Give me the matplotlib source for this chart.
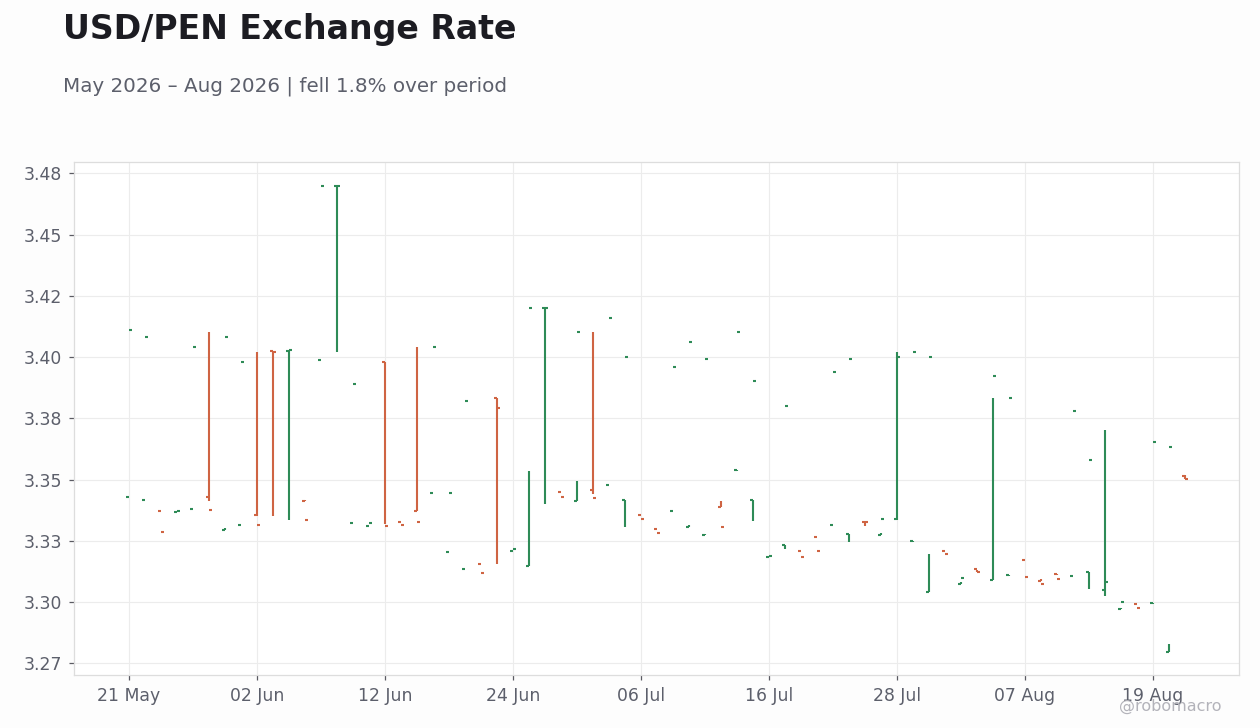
import pandas as pd
import matplotlib.pyplot as plt


# business days, 21 May 2026 -> 21 Aug 2026
dates = pd.bdate_range("2026-05-21", "2026-08-21")

open_px = [
    3.3429, 3.3418, 3.3373, 3.3369, 3.3381, 3.3430, 3.3295,
    3.3316, 3.3355, 3.4026, 3.4026, 3.3414,
    3.3989, 3.4699, 3.3324, 3.3312, 3.3981,
    3.3328, 3.3373, 3.3446, 3.3206, 3.3136,
    3.3157, 3.3834, 3.3210, 3.3148, 3.4201,
    3.3450, 3.3414, 3.3459, 3.3479, 3.3418,
    3.3357, 3.3299, 3.3373, 3.3308, 3.3275,
    3.3389, 3.3540, 3.3418, 3.3185, 3.3234,
    3.3210, 3.3267, 3.3316, 3.3279, 3.3328,
    3.3275, 3.3340, 3.3250, 3.3042, 3.3210,
    3.3075, 3.3136, 3.3091, 3.3112, 3.3173,
    3.3087, 3.3116, 3.3108, 3.3124, 3.3050,
    3.2973, 3.2993, 3.2997, 3.2796, 3.3516,
]

high_px = [
    3.4112, 3.4083, 3.3373, 3.3373, 3.4042, 3.4102, 3.3301,
    3.3316, 3.4021, 3.4026, 3.4027, 3.3418,
    3.3989, 3.4700, 3.3324, 3.3312, 3.3981,
    3.3328, 3.4041, 3.3446, 3.3206, 3.3136,
    3.3157, 3.3834, 3.3210, 3.3535, 3.4202,
    3.3450, 3.3494, 3.4102, 3.3479, 3.3418,
    3.3357, 3.3299, 3.3373, 3.3316, 3.3279,
    3.3412, 3.3540, 3.3418, 3.3185, 3.3234,
    3.3210, 3.3267, 3.3316, 3.3279, 3.3328,
    3.3283, 3.4019, 3.3250, 3.3196, 3.3210,
    3.3083, 3.3130, 3.3834, 3.3112, 3.3173,
    3.3095, 3.3116, 3.3108, 3.3124, 3.3701,
    3.2977, 3.2993, 3.2997, 3.2829, 3.3520,
]

low_px = [
    3.4112, 3.4083, 3.3373, 3.3373, 3.4042, 3.3414, 3.3295,
    3.3316, 3.3352, 3.3352, 3.3336, 3.3414,
    3.3989, 3.4022, 3.3324, 3.3312, 3.3320,
    3.3328, 3.3373, 3.3446, 3.3206, 3.3136,
    3.3157, 3.3157, 3.3210, 3.3148, 3.3401,
    3.3450, 3.3414, 3.3442, 3.3479, 3.3308,
    3.3357, 3.3299, 3.3373, 3.3308, 3.3275,
    3.3389, 3.3536, 3.3332, 3.3185, 3.3218,
    3.3210, 3.3267, 3.3316, 3.3246, 3.3312,
    3.3275, 3.3336, 3.3246, 3.3042, 3.3210,
    3.3075, 3.3122, 3.3091, 3.3108, 3.3173,
    3.3087, 3.3112, 3.3108, 3.3055, 3.3026,
    3.2973, 3.2993, 3.2993, 3.2796, 3.3503,
]

close_px = [
    3.4112, 3.4083, 3.3287, 3.3373, 3.4042, 3.3377, 3.4083,
    3.3981, 3.3316, 3.4022, 3.4027, 3.3336,
    3.4699, 3.4700, 3.3891, 3.3324, 3.3312,
    3.3316, 3.3328, 3.4042, 3.3446, 3.3822,
    3.3120, 3.3793, 3.3218, 3.4201, 3.4202,
    3.3430, 3.4103, 3.3426, 3.4161, 3.4001,
    3.3340, 3.3283, 3.3961, 3.4063, 3.3993,
    3.3308, 3.4103, 3.3903, 3.3189, 3.3801,
    3.3185, 3.3210, 3.3940, 3.3993, 3.3327,
    3.3340, 3.4001, 3.4022, 3.4001, 3.3197,
    3.3099, 3.3124, 3.3924, 3.3834, 3.3103,
    3.3075, 3.3095, 3.3781, 3.3581, 3.3083,
    3.3001, 3.2977, 3.3654, 3.3634, 3.3503,
]

y_ticks = [3.275, 3.30, 3.325, 3.35, 3.375, 3.40, 3.425, 3.45, 3.475]
y_labels = ["3.27", "3.30", "3.33", "3.35", "3.38", "3.40", "3.42", "3.45", "3.48"]

UP = "#2e8b57"
DOWN = "#cf6443"
TEXT = "#1c1c22"
MUTED = "#5c5f6b"


fig = plt.figure(figsize=(12.6, 7.28), dpi=100, facecolor="#fdfdfd")
ax = fig.add_axes([74 / 1260, 1 - 675 / 728, 1165 / 1260, 513 / 728])
ax.set_facecolor("white")

x = list(range(len(dates)))
colors = [UP if c >= o else DOWN for o, c in zip(open_px, close_px)]
tick = 0.19

ax.vlines(x, low_px, high_px, colors=colors, linewidth=1.5, capstyle="butt", zorder=3)
ax.hlines(open_px, [i - tick for i in x], x, colors=colors, linewidth=1.5, zorder=3)
ax.hlines(close_px, x, [i + tick for i in x], colors=colors, linewidth=1.5, zorder=3)

ax.set_xlim(-3.44, 69.4)
ax.set_ylim(3.2702, 3.4796)

xt = x[::8]
ax.set_xticks(xt)
ax.set_xticklabels([dates[i].strftime("%d %b") for i in xt])
ax.set_yticks(y_ticks)
ax.set_yticklabels(y_labels)

ax.grid(True, color="#ececec", linewidth=0.8, zorder=0)
ax.set_axisbelow(True)
for s in ax.spines.values():
    s.set_color("#dddddd")
    s.set_linewidth(0.9)

ax.tick_params(axis="both", colors="#5a5a62", labelcolor=MUTED,
               labelsize=12.4, length=3.5, width=0.9, pad=5)

fig.text(63 / 1260, 1 - 39 / 728, "USD/PEN Exchange Rate",
         fontsize=23.9, fontweight="bold", color=TEXT, va="baseline")
fig.text(63 / 1260, 1 - 92 / 728, "May 2026 \u2013 Aug 2026 | fell 1.8% over period",
         fontsize=14.35, color=MUTED, va="baseline")
fig.text(1222 / 1260, 1 - 711 / 728, "@robomacro",
         fontsize=11.5, color="#b3b3ba", ha="right", va="baseline")

plt.savefig("out.png", dpi=100, facecolor=fig.get_facecolor())
